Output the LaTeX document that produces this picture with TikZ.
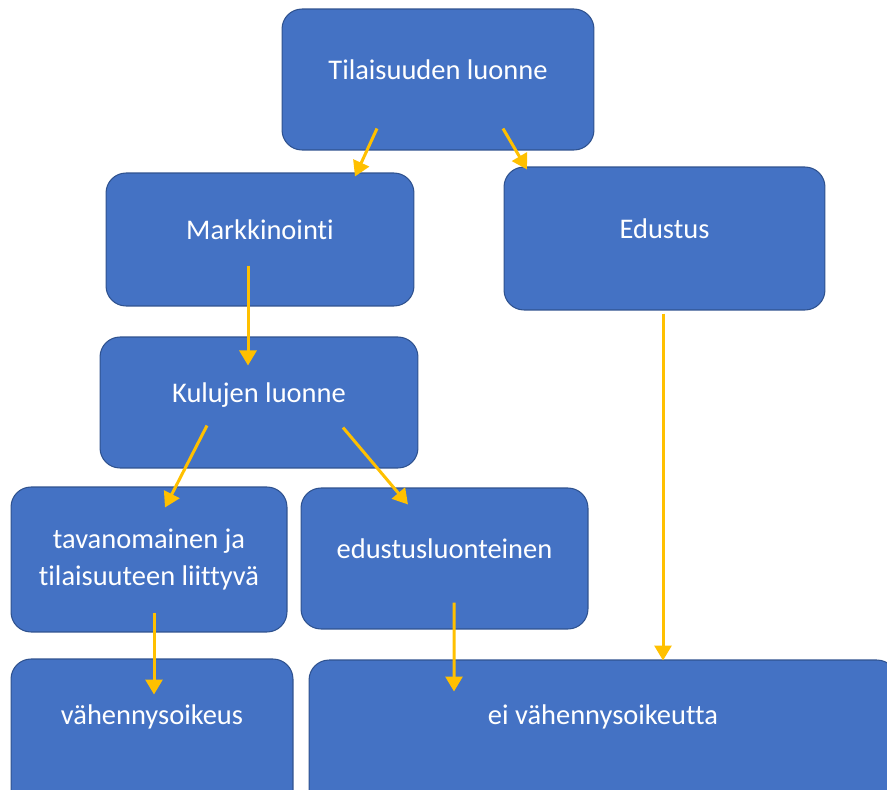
\documentclass[tikz,border=0pt]{standalone}
\usepackage{fontspec}
\setmainfont{Carlito}[Ligatures=NoCommon]
\usepackage{xcolor}
\usetikzlibrary{calc, arrows.meta, positioning}
\definecolor{boxblue}{HTML}{4472C4}
\definecolor{boxedge}{HTML}{2F528F}
\definecolor{flowgold}{HTML}{FFC000}
\tikzset{
  box/.style={rectangle,rounded corners=0.4cm,fill=boxblue,draw=boxedge,line width=0.6pt,text=white,inner sep=0pt,font=\fontsize{16.2}{21.5}\selectfont},
  oneline/.style={box,text height=8pt,text depth=8pt},
  flow/.style={-{Triangle[width=0.34cm,length=0.3cm]}, line width=0.06cm, color=flowgold}
}

\begin{document}
\begin{tikzpicture}[x=0.02cm,y=-0.02cm]
  \useasboundingbox (0,0) rectangle (887,789);
  \clip (0,0) rectangle (887,789);
  \node[oneline, minimum width=6.24cm, minimum height=2.82cm] (occ) at (438,79.5) {Tilaisuuden luonne};
  \node[oneline, minimum width=6.16cm, minimum height=2.66cm] (mkt) at (260,239.5) {Markkinointi};
  \node[oneline, minimum width=6.42cm, minimum height=2.86cm] (rep) at (664.5,238.5) {Edustus};
  \node[oneline, minimum width=6.36cm, minimum height=2.62cm] (cost) at (259,402.5) {Kulujen luonne};
  \node[box, align=center, minimum width=5.52cm, minimum height=2.90cm] (usual) at (149,559.5) {tavanomainen ja\\tilaisuuteen liittyvä};
  \node[oneline, minimum width=5.74cm, minimum height=2.82cm] (repc) at (444.5,558.5) {edustusluonteinen};
  \node[oneline, text depth=19.9pt, minimum width=5.64cm, minimum height=3.02cm] (ded) at (152,734.5) {vähennysoikeus};
  \node[oneline, text depth=20.5pt, minimum width=11.76cm, minimum height=3.00cm] (noded) at (603,735) {ei vähennysoikeutta};
  \draw[flow] ([shift={(-61,-22)}]occ.south) -- ([shift={(95,4)}]mkt.north);
  \draw[flow] ([shift={(65,-22)}]occ.south) -- ([shift={(-137.5,3)}]rep.north);
  \draw[flow] ([shift={(-12,-41)}]mkt.south) -- ([shift={(-11,29)}]cost.north);
  \draw[flow] ([shift={(-52,-43)}]cost.south) -- ([shift={(16,21)}]usual.north);
  \draw[flow] ([shift={(84,-41)}]cost.south) -- ([shift={(-36.5,17)}]repc.north);
  \draw[flow] ([shift={(5,-20)}]usual.south) -- ([shift={(2,36)}]ded.north);
  \draw[flow] ([shift={(9.5,-27)}]repc.south) -- ([shift={(-149,32)}]noded.north);
  \draw[flow] ([shift={(-1.5,3)}]rep.south) -- ([shift={(60,1)}]noded.north);
\end{tikzpicture}
\end{document}
